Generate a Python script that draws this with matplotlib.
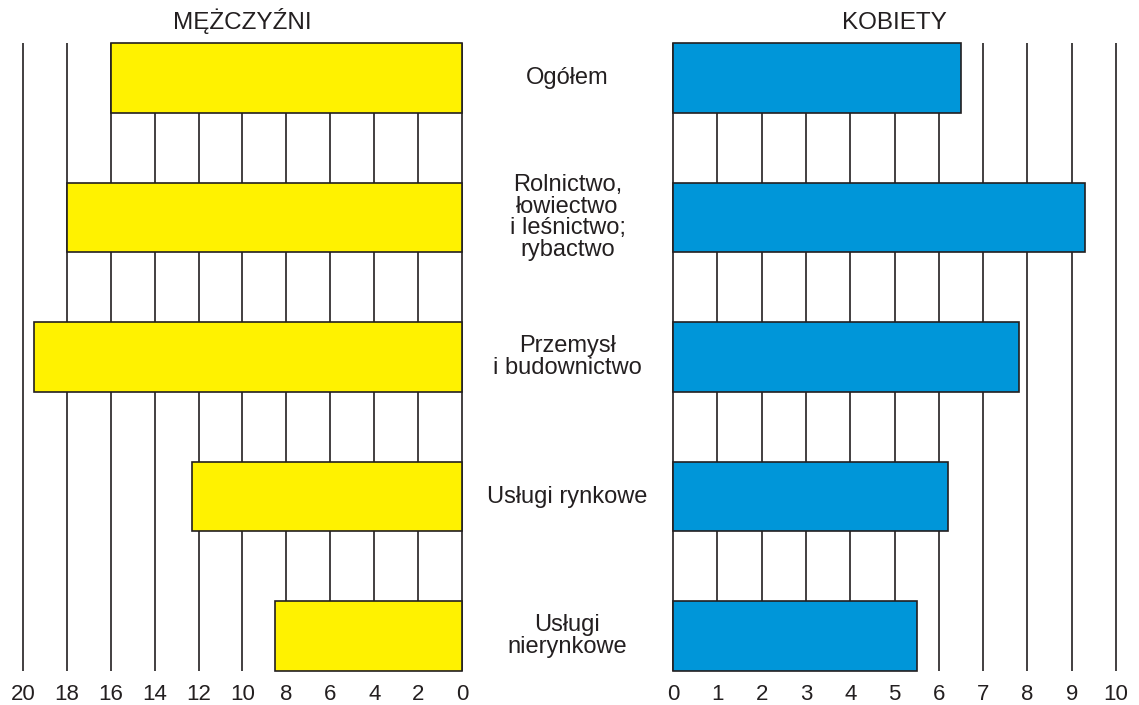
import matplotlib.pyplot as plt
import numpy as np

plt.rcParams['font.family'] = ['Liberation Sans', 'DejaVu Sans']

categories = ["Ogółem", "Rolnictwo,\nłowiectwo\ni leśnictwo;\nrybactwo",
              "Przemysł\ni budownictwo", "Usługi rynkowe", "Usługi\nnierynkowe"]
men = [16.0, 18.0, 19.5, 12.3, 8.5]
women = [6.5, 9.3, 7.8, 6.2, 5.5]
men_ticks = [20, 18, 16, 14, 12, 10, 8, 6, 4, 2, 0]
women_ticks = list(range(0, 11))

yellow = "#FFF200"
blue = "#0096D9"
ink = "#231F20"

fig = plt.figure(figsize=(11.39, 7.05), dpi=100)
ax_m = fig.add_axes([23 / 1139, 34 / 705, 439 / 1139, 628 / 705])
ax_w = fig.add_axes([673 / 1139, 34 / 705, 443 / 1139, 628 / 705])

y = np.arange(len(categories))

for ax, vals, ticks, col, lim, title in [
        (ax_m, men, men_ticks, yellow, (20, 0), "MĘŻCZYŹNI"),
        (ax_w, women, women_ticks, blue, (0, 10), "KOBIETY")]:
    ax.vlines(ticks, -0.25, 4.25, color=ink, lw=1.2, zorder=1, clip_on=False)
    ax.barh(y, vals, height=0.5, color=col, edgecolor=ink, lw=1.2, zorder=2,
            clip_on=False)
    ax.set_xlim(*lim)
    ax.set_ylim(4.25, -0.25)
    ax.set_xticks(ticks)
    ax.set_xticklabels([str(t) for t in ticks])
    ax.tick_params(axis='x', length=0, pad=9, labelsize=16, labelcolor=ink)
    ax.set_yticks([])
    for s in ax.spines.values():
        s.set_visible(False)
    ax.set_title(title, fontsize=17.5, color=ink, pad=10)

for i, name in enumerate(categories):
    yy = ax_m.transData.transform((0, i))[1]
    fx = (462 + 673) / 2 / 1139
    fy = fig.transFigure.inverted().transform((0, yy))[1]
    fig.text(fx, fy, name, ha='center', va='center', fontsize=17,
             color=ink, linespacing=0.98)

fig.savefig("out.png", dpi=100)
